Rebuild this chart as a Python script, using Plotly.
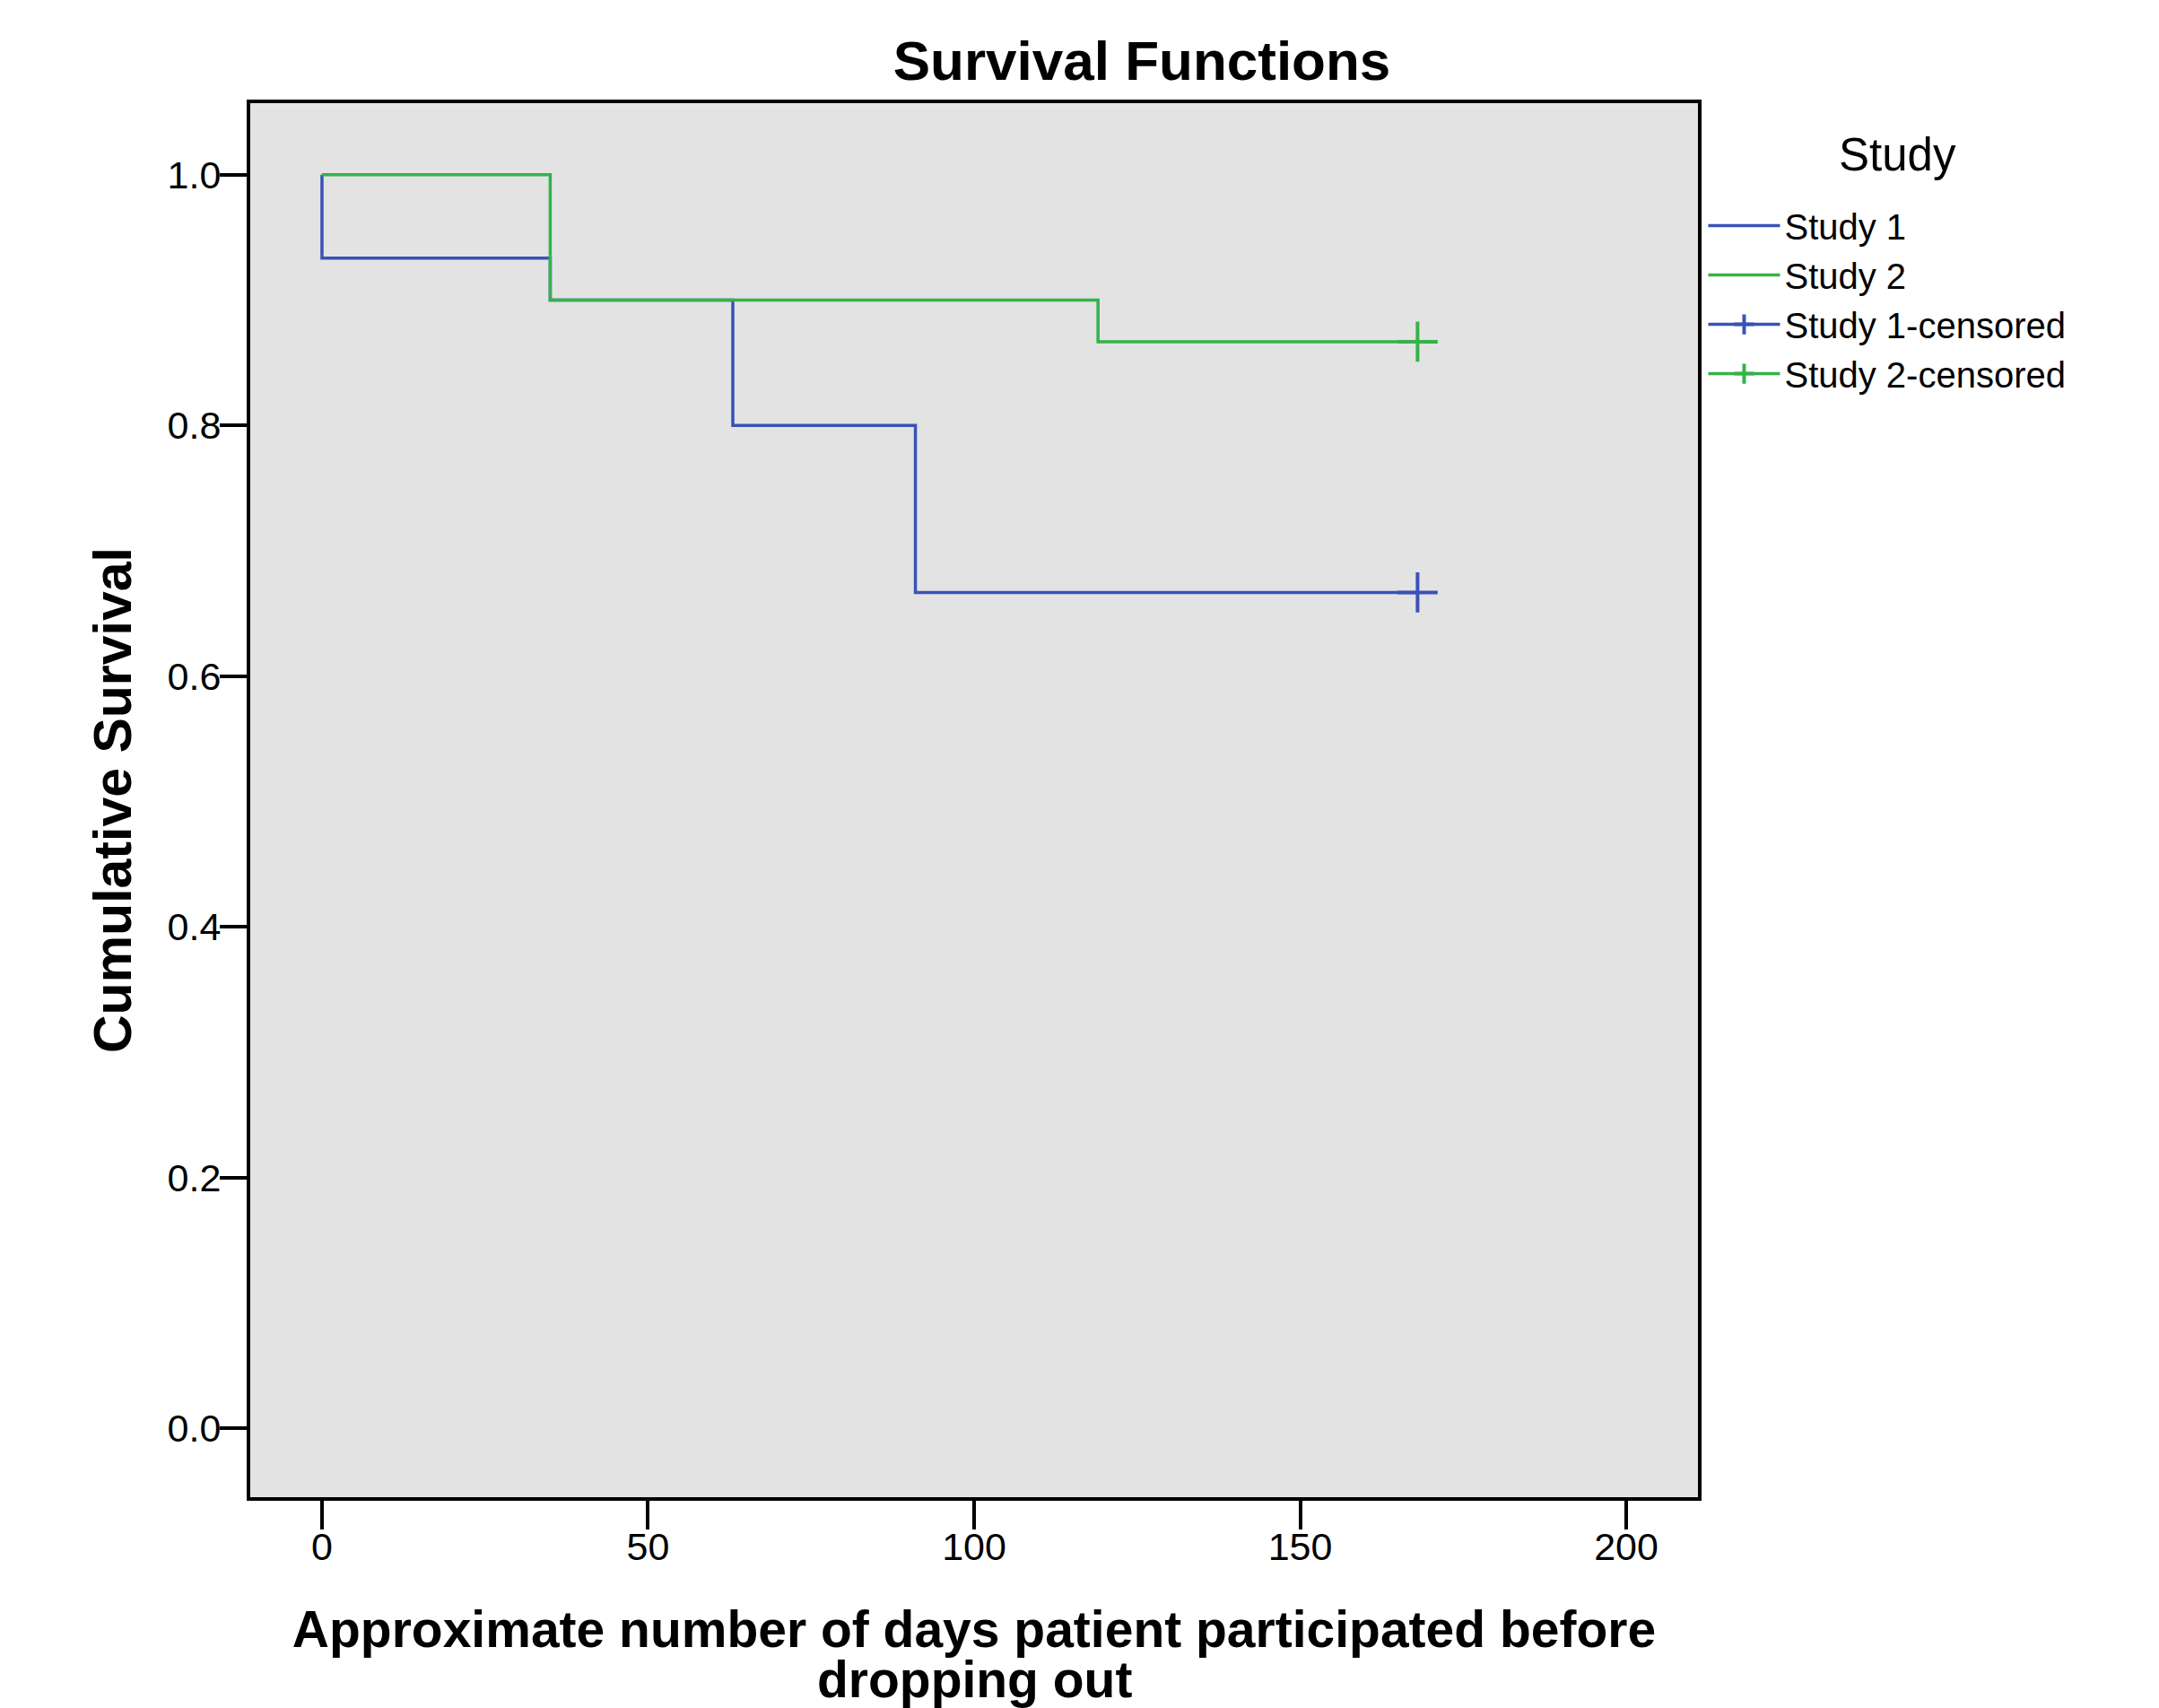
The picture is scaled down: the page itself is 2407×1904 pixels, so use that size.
import plotly.graph_objects as go

# ---- data ----
study1_time = [0, 0, 35, 63, 91, 168]
study1_surv = [1.0, 0.9333, 0.9, 0.8, 0.6667, 0.6667]
study2_time = [0, 35, 119, 168]
study2_surv = [1.0, 0.9, 0.8667, 0.8667]
cens1_time = [168]
cens1_surv = [0.6667]
cens2_time = [168]
cens2_surv = [0.8667]

x_ticks = [0, 50, 100, 150, 200]
y_ticks = [0.0, 0.2, 0.4, 0.6, 0.8, 1.0]

BLUE = "#3a52b6"
GREEN = "#35b24a"
FONT = "Liberation Sans, Arial, sans-serif"

fig = go.Figure()
fig.add_trace(go.Scatter(x=study1_time, y=study1_surv, mode="lines", name="Study 1",
                         line=dict(color=BLUE, width=3.5, shape="hv")))
fig.add_trace(go.Scatter(x=study2_time, y=study2_surv, mode="lines", name="Study 2",
                         line=dict(color=GREEN, width=3.5, shape="hv")))
fig.add_trace(go.Scatter(x=cens1_time, y=cens1_surv, mode="lines+markers", name="Study 1-censored",
                         line=dict(color=BLUE, width=3.5),
                         marker=dict(symbol="cross-thin", size=32, line=dict(color=BLUE, width=4))))
fig.add_trace(go.Scatter(x=cens2_time, y=cens2_surv, mode="lines+markers", name="Study 2-censored",
                         line=dict(color=GREEN, width=3.5),
                         marker=dict(symbol="cross-thin", size=32, line=dict(color=GREEN, width=4))))

fig.update_layout(
    width=2407, height=1904,
    margin=dict(l=271, r=522, t=107, b=243, autoexpand=False),
    paper_bgcolor="white", plot_bgcolor="#e3e3e3",
    font=dict(family=FONT, color="black", size=42),
    title=dict(text="Survival Functions", x=1265 / 2407, xref="container", xanchor="center",
               y=1 - 59 / 1904, yref="container", yanchor="middle",
               font=dict(size=62, weight="bold", family=FONT)),
    showlegend=True,
    legend=dict(x=1.004, xanchor="left", y=0.933, yanchor="top",
                bgcolor="rgba(0,0,0,0)", font=dict(size=40, family=FONT),
                tracegroupgap=0, itemwidth=80),
    annotations=[
        dict(text="Study", x=(2115 - 279) / 1614, y=1 - (172 - 115) / 1554,
             xref="paper", yref="paper", xanchor="center", yanchor="middle",
             showarrow=False, font=dict(size=51, family=FONT)),
        dict(text="<b>dropping out</b>", x=0.5, y=-0.1306,
             xref="paper", yref="paper", xanchor="center", yanchor="middle",
             showarrow=False, font=dict(size=57, family=FONT)),
    ],
)
fig.update_xaxes(range=[-11, 211], tickvals=x_ticks, ticktext=[str(v) for v in x_ticks],
                 showgrid=False, zeroline=False, showline=True, mirror=True, automargin=False,
                 linecolor="black", linewidth=4, ticks="outside", ticklen=32, tickwidth=4,
                 tickcolor="black", tickfont=dict(size=43), ticklabelstandoff=-18,
                 title=dict(text="<b>Approximate number of days patient participated before</b>",
                            font=dict(size=57), standoff=51))
fig.update_yaxes(range=[-0.055, 1.057], tickvals=y_ticks, ticktext=[f"{v:.1f}" for v in y_ticks],
                 showgrid=False, zeroline=False, showline=True, mirror=True, automargin=False,
                 linecolor="black", linewidth=4, ticks="outside", ticklen=30, tickwidth=4,
                 tickcolor="black", tickfont=dict(size=43), ticklabelstandoff=-10,
                 title=dict(text="<b>Cumulative Survival</b>", font=dict(size=59), standoff=22))

fig.write_html("out.html")
